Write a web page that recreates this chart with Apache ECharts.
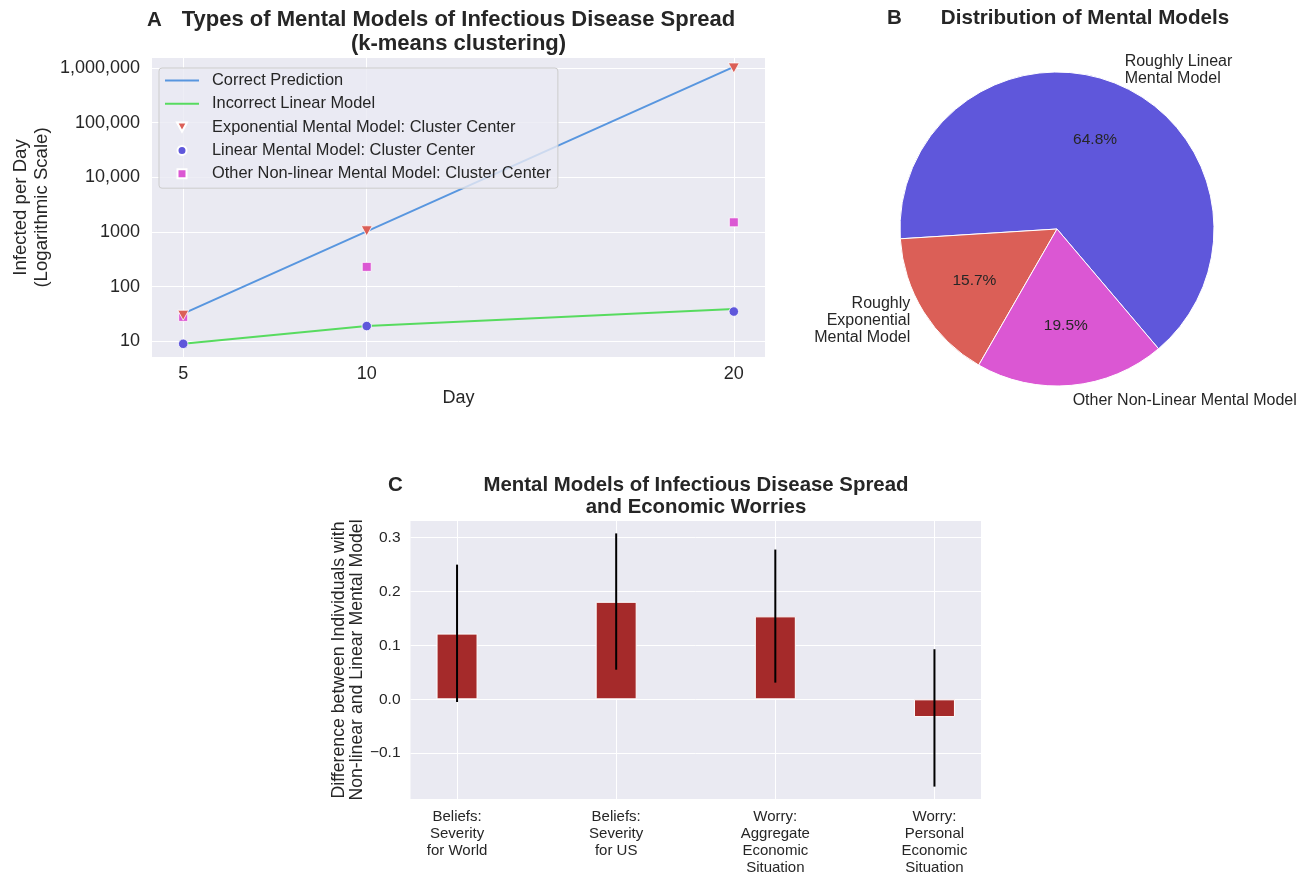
<!DOCTYPE html>
<html><head><meta charset="utf-8">
<script src="https://cdn.jsdelivr.net/npm/echarts@6/dist/echarts.min.js"></script>
<style>html,body{margin:0;padding:0;background:#fff}#c{width:1311px;height:876px}</style>
</head><body><div id="c"></div>
<script>
// ---------- Panel A data ----------
const days = [5, 10, 20];
const correctPrediction = [32, 1024, 1048576];
const incorrectLinear = [9, 19, 39];
const exponentialCenter = [30, 1050, 1000000];
const linearCenter = [9, 19, 35];
const otherCenter = [28, 230, 1500];
const yTickValues = [10, 100, 1000, 10000, 100000, 1000000];
const yTickLabels = ['10', '100', '1000', '10,000', '100,000', '1,000,000'];
const seriesNamesA = ['Correct Prediction', 'Incorrect Linear Model',
  'Exponential Mental Model: Cluster Center', 'Linear Mental Model: Cluster Center',
  'Other Non-linear Mental Model: Cluster Center'];

// ---------- Panel B data ----------
const pieNames = ['Roughly Linear\nMental Model', 'Roughly\nExponential\nMental Model', 'Other Non-Linear Mental Model'];
const pieValues = [64.8, 15.7, 19.5];

// ---------- Panel C data ----------
const barCategories = ['Beliefs:\nSeverity\nfor World', 'Beliefs:\nSeverity\nfor US',
  'Worry:\nAggregate\nEconomic\nSituation', 'Worry:\nPersonal\nEconomic\nSituation'];
const barValues = [0.122, 0.181, 0.154, -0.033];
const errLow = [-0.005, 0.055, 0.031, -0.162];
const errHigh = [0.250, 0.308, 0.278, 0.093];
const cTickValues = [-0.1, 0.0, 0.1, 0.2, 0.3];
const cTickLabels = ['\u22120.1', '0.0', '0.1', '0.2', '0.3'];

const FONT = 'Liberation Sans, Arial, sans-serif';
const TXT = '#262626';
const BG = '#EAEAF2';
const C_BLUE = '#5896df';
const C_GREEN = '#57db5f';
const C_RED = '#db5f57';
const C_PURPLE = '#5f57db';
const C_MAG = '#db57d3';
const pieColors = [C_PURPLE, C_RED, C_MAG];

const LINE_ICON = 'path://M0,0 L34,0 L34,2 L0,2 Z';
const TRI_ICON = 'path://M0,0 L10,0 L5,9 Z';
const SQ_ICON = 'path://M0,0 L10,0 L10,10 L0,10 Z';
const legendIcons = [LINE_ICON, LINE_ICON, TRI_ICON, 'circle', SQ_ICON];

const zip = (xs, ys) => xs.map((x, i) => [x, ys[i]]);
const catIdx = barCategories.map((_, i) => i);
const lookup = (vals, labels) => v => {
  for (let i = 0; i < vals.length; i++) if (Math.abs(vals[i] - v) < 1e-6 * Math.max(1, Math.abs(v))) return labels[i];
  return '';
};

const chart = echarts.init(document.getElementById('c'), null, {renderer: 'canvas'});
const titleStyle = (fs, lh) => ({fontFamily: FONT, fontWeight: 'bold', fontSize: fs, lineHeight: lh, color: TXT});

const option = {
  animation: false,
  textStyle: {fontFamily: FONT, color: TXT},
  title: [
    {text: 'A', left: 147, top: 8, padding: 0, textStyle: titleStyle(20.5, 24)},
    {text: 'Types of Mental Models of Infectious Disease Spread\n(k-means clustering)', left: 458.5, textAlign: 'center', top: 8, padding: 0, textStyle: titleStyle(22, 24)},
    {text: 'B', left: 887, top: 7, padding: 0, textStyle: titleStyle(20.5, 22)},
    {text: 'Distribution of Mental Models', left: 1085, textAlign: 'center', top: 7, padding: 0, textStyle: titleStyle(20.6, 22)},
    {text: 'C', left: 388, top: 474, padding: 0, textStyle: titleStyle(20.5, 22)},
    {text: 'Mental Models of Infectious Disease Spread\nand Economic Worries', left: 696, textAlign: 'center', top: 474, padding: 0, textStyle: titleStyle(20.4, 22)}
  ],
  legend: {
    data: seriesNamesA.map((n, i) => ({name: n, icon: legendIcons[i]})),
    left: 159, top: 68, orient: 'vertical',
    padding: [4.5, 7, 6.5, 6],
    itemWidth: 34, itemHeight: 9, itemGap: 7.3,
    backgroundColor: 'rgba(234,234,242,0.8)', borderColor: '#cccccc', borderWidth: 1, borderRadius: 3,
    selectedMode: false,
    textStyle: {fontFamily: FONT, fontSize: 16.4, lineHeight: 16, color: TXT, padding: [0, 0, 0, 8]}
  },
  grid: [
    {left: 152, top: 58, width: 613, height: 299, show: true, backgroundColor: BG, borderWidth: 0, containLabel: false},
    {left: 410.5, top: 521, width: 570.5, height: 278, show: true, backgroundColor: BG, borderWidth: 0, containLabel: false}
  ],
  xAxis: [
    {
      type: 'value', gridIndex: 0, min: 4.15, max: 20.85,
      axisLine: {show: false}, axisTick: {show: false, customValues: days},
      axisLabel: {customValues: days, fontSize: 18, color: TXT, margin: 8, fontFamily: FONT},
      splitLine: {show: true, lineStyle: {color: '#ffffff', width: 1}},
      name: 'Day', nameLocation: 'middle', nameGap: 32,
      nameTextStyle: {fontSize: 18, lineHeight: 18, color: TXT, fontFamily: FONT}
    },
    {
      type: 'value', gridIndex: 1, min: -0.2925, max: 3.2925,
      axisLine: {show: false}, axisTick: {show: false, customValues: catIdx},
      axisLabel: {customValues: catIdx, fontSize: 15, lineHeight: 17, color: TXT, margin: 9, fontFamily: FONT,
        formatter: v => barCategories[Math.round(v)]},
      splitLine: {show: true, lineStyle: {color: '#ffffff', width: 1}}
    }
  ],
  yAxis: [
    {
      type: 'log', logBase: 10, gridIndex: 0, min: 5.16, max: 1520000,
      axisLine: {show: false}, axisTick: {show: false, customValues: yTickValues},
      axisLabel: {customValues: yTickValues, fontSize: 18, color: TXT, margin: 12, fontFamily: FONT,
        formatter: lookup(yTickValues, yTickLabels)},
      splitLine: {show: true, lineStyle: {color: '#ffffff', width: 1}},
      name: 'Infected per Day\n(Logarithmic Scale)', nameLocation: 'middle', nameRotate: 90, nameGap: 100,
      nameTextStyle: {fontSize: 18.6, lineHeight: 21, color: TXT, fontFamily: FONT}
    },
    {
      type: 'value', gridIndex: 1, min: -0.185, max: 0.331,
      axisLine: {show: false}, axisTick: {show: false, customValues: cTickValues},
      axisLabel: {customValues: cTickValues, fontSize: 15.5, color: TXT, margin: 10, fontFamily: FONT,
        formatter: lookup(cTickValues, cTickLabels)},
      splitLine: {show: true, lineStyle: {color: '#ffffff', width: 1}},
      name: 'Difference between Individuals with\nNon-linear and Linear Mental Model', nameLocation: 'middle', nameRotate: 90, nameGap: 41,
      nameTextStyle: {fontSize: 17.7, lineHeight: 18, color: TXT, fontFamily: FONT}
    }
  ],
  series: [
    {name: seriesNamesA[0], type: 'line', xAxisIndex: 0, yAxisIndex: 0, data: zip(days, correctPrediction),
      symbol: 'none', lineStyle: {color: C_BLUE, width: 2}, itemStyle: {color: C_BLUE}, z: 2},
    {name: seriesNamesA[1], type: 'line', xAxisIndex: 0, yAxisIndex: 0, data: zip(days, incorrectLinear),
      symbol: 'none', lineStyle: {color: C_GREEN, width: 2}, itemStyle: {color: C_GREEN}, z: 2},
    {name: seriesNamesA[4], type: 'scatter', xAxisIndex: 0, yAxisIndex: 0, data: zip(days, otherCenter),
      symbol: 'rect', symbolSize: 9, itemStyle: {color: C_MAG, borderColor: '#fff', borderWidth: 0.8, opacity: 1}, z: 3},
    {name: seriesNamesA[3], type: 'scatter', xAxisIndex: 0, yAxisIndex: 0, data: zip(days, linearCenter),
      symbol: 'circle', symbolSize: 9.5, itemStyle: {color: C_PURPLE, borderColor: '#fff', borderWidth: 0.8, opacity: 1}, z: 4},
    {name: seriesNamesA[2], type: 'scatter', xAxisIndex: 0, yAxisIndex: 0, data: zip(days, exponentialCenter),
      symbol: TRI_ICON, symbolSize: [11, 10], itemStyle: {color: C_RED, borderColor: '#fff', borderWidth: 0.8, opacity: 1}, z: 5},
    {
      type: 'pie', center: [1057, 229], radius: [0, 157], startAngle: -49.7, clockwise: false,
      avoidLabelOverlap: false, silent: true,
      data: pieNames.map((n, i) => ({name: n, value: pieValues[i], itemStyle: {color: pieColors[i]}})),
      itemStyle: {borderColor: '#ffffff', borderWidth: 1},
      label: {show: true, position: 'outside', fontSize: 16, lineHeight: 17, color: TXT, fontFamily: FONT,
        distanceToLabelLine: 0, formatter: '{b}'},
      labelLine: {show: false, length: 15.7, length2: 0},
      emphasis: {disabled: true}
    },
    {
      type: 'pie', center: [1057, 229], radius: [31.4, 157], startAngle: -49.7, clockwise: false,
      avoidLabelOverlap: false, silent: true, z: 3,
      data: pieNames.map((n, i) => ({name: n, value: pieValues[i]})),
      itemStyle: {color: 'rgba(0,0,0,0)', borderWidth: 0},
      label: {show: true, position: 'inside', fontSize: 15.5, color: TXT, fontFamily: FONT,
        formatter: p => pieValues[p.dataIndex].toFixed(1) + '%'},
      labelLine: {show: false},
      emphasis: {disabled: true}
    },
    {
      type: 'bar', xAxisIndex: 1, yAxisIndex: 1, barWidth: 41,
      data: zip(catIdx, barValues),
      itemStyle: {color: '#a52a2a', borderColor: '#ffffff', borderWidth: 1}
    },
    {
      type: 'custom', xAxisIndex: 1, yAxisIndex: 1, z: 5,
      data: catIdx.map(i => [i, errLow[i], errHigh[i]]),
      renderItem: (params, api) => {
        const p1 = api.coord([api.value(0), api.value(1)]);
        const p2 = api.coord([api.value(0), api.value(2)]);
        return {type: 'line', shape: {x1: p1[0], y1: p1[1], x2: p2[0], y2: p2[1]},
          style: {stroke: '#000000', lineWidth: 2}};
      }
    }
  ]
};
chart.setOption(option);
</script>
</body></html>
